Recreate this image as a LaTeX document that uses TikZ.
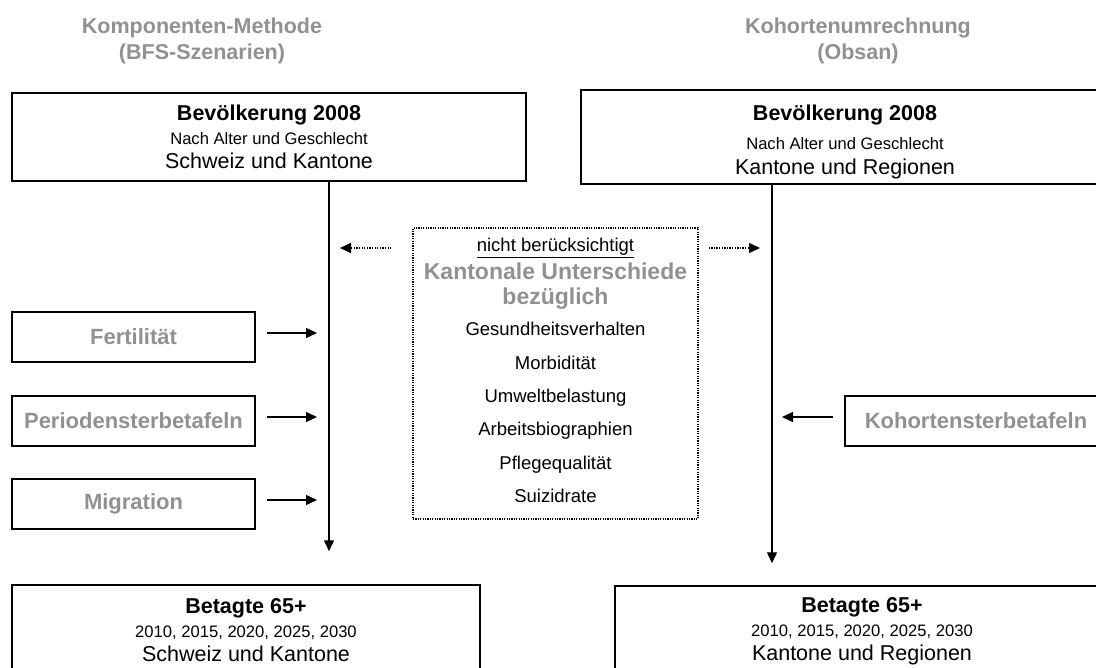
\documentclass[tikz,border=0pt]{standalone}
\usepackage{fontspec}
\setmainfont{Liberation Sans}
\usepackage{tikz}
\usetikzlibrary{arrows.meta, positioning, calc}
\definecolor{labgray}{RGB}{145,145,145}
\newcommand{\bigsz}{\fontsize{21.5}{24}\selectfont}
\newcommand{\smallsz}{\fontsize{16.6}{24}\selectfont}
\newcommand{\sidesz}{\fontsize{22}{26}\selectfont}
\newcommand{\listsz}{\fontsize{18.5}{22}\selectfont}
\tikzset{
  popbox/.style={rectangle, draw=black, line width=1.5pt, align=center,
    font=\bigsz, inner sep=0pt},
  factbox/.style={rectangle, draw=black, line width=1.5pt, minimum height=50pt,
    font=\sidesz\bfseries, text=labgray, inner sep=0pt},
  notebox/.style={rectangle, draw=black, line width=1.2pt,
    dash pattern=on 1.2pt off 1.2pt, inner sep=0pt},
  headtxt/.style={font=\fontsize{21.5}{25.5}\selectfont\bfseries, text=labgray,
    align=center, inner sep=0pt},
  itemtxt/.style={font=\listsz, text height=1.5ex, text depth=.25ex, inner sep=0pt},
  arrow/.style={-{Triangle[length=11pt,width=10pt]}, line width=1.4pt},
  dotarrow/.style={-{Triangle[length=11pt,width=10pt]}, line width=1.3pt,
    dash pattern=on 1.3pt off 1.3pt}
}

\begin{document}
\begin{tikzpicture}[x=1pt, y=-1pt]
  \useasboundingbox (0,0) rectangle (1096,668);
  \clip (0,0) rectangle (1096,668);
  % titles
  \node[headtxt] (titleL) at (202,41) {Komponenten-Methode\\(BFS-Szenarien)};
  \node[headtxt] (titleR) at (858,41) {Kohortenumrechnung\\(Obsan)};
  % population boxes
  \node[popbox, minimum width=514pt, minimum height=88pt] (popL) at (269,137)
    {{\bfseries Bevölkerung 2008}\\{\smallsz Nach Alter und Geschlecht}\\Schweiz und Kantone};
  \node[popbox, minimum width=528pt, minimum height=94pt] (popR) at (845,137) {};
  \node[popbox, draw=none] (popRtext) at (845,142)
    {{\bfseries Bevölkerung 2008}\\[5pt]{\smallsz Nach Alter und Geschlecht}\\[1pt]Kantone und Regionen};
  \node[popbox, minimum width=468pt, minimum height=90pt] (ageL) at (246,630)
    {{\bfseries Betagte 65+}\\{\smallsz 2010, 2015, 2020, 2025, 2030}\\Schweiz und Kantone};
  \node[popbox, minimum width=494pt, minimum height=90pt] (ageR) at (862,631)
    {{\bfseries Betagte 65+}\\{\smallsz 2010, 2015, 2020, 2025, 2030}\\Kantone und Regionen};
  % input factors
  \node[factbox, minimum width=243pt] (fert) at (133.5,337) {Fertilität};
  \node[factbox, minimum width=243pt] (peri) at (133.5,421) {Periodensterbetafeln};
  \node[factbox, minimum width=243pt] (migr) at (133.5,504) {Migration};
  \node[factbox, minimum width=262pt] (koho) at (976,421) {Kohortensterbetafeln};
  % not considered
  \node[notebox, minimum width=285pt, minimum height=291pt] (note) at (555.5,373.5) {};
  \node[font=\listsz, inner sep=0pt] (nb) at (555.5,248) {\underline{nicht berücksichtigt}};
  \node[headtxt, font=\fontsize{23}{25}\selectfont\bfseries] (kant) at (555.5,286)
    {Kantonale Unterschiede\\bezüglich};
  \foreach \yy/\txt in {332/Gesundheitsverhalten, 366/Morbidität, 399/Umweltbelastung,
      432/Arbeitsbiographien, 466/Pflegequalität, 499/Suizidrate}
    \node[itemtxt] (item\yy) at (555.5,\yy) {\txt};
  % axes
  \coordinate (axisL) at (329,0);
  \coordinate (axisR) at (772,0);
  \draw[arrow, shorten >=33pt] (popL.south -| axisL) -- (ageL.north -| axisL);
  \draw[arrow, shorten >=22pt] (popR.south -| axisR) -- (ageR.north -| axisR);
  \foreach \f in {fert, peri, migr}
    \draw[arrow, shorten <=11pt, shorten >=12pt] ([yshift=4pt]\f.east) -- ([yshift=4pt]\f.east -| axisL);
  \draw[arrow, shorten <=11pt, shorten >=10pt] ([yshift=4pt]koho.west) -- ([yshift=4pt]koho.west -| axisR);
  \draw[dotarrow, shorten <=21pt, shorten >=11pt] (nb -| note.west) -- (nb -| axisL);
  \draw[dotarrow, shorten <=10pt, shorten >=12pt] (nb -| note.east) -- (nb -| axisR);
\end{tikzpicture}
\end{document}
